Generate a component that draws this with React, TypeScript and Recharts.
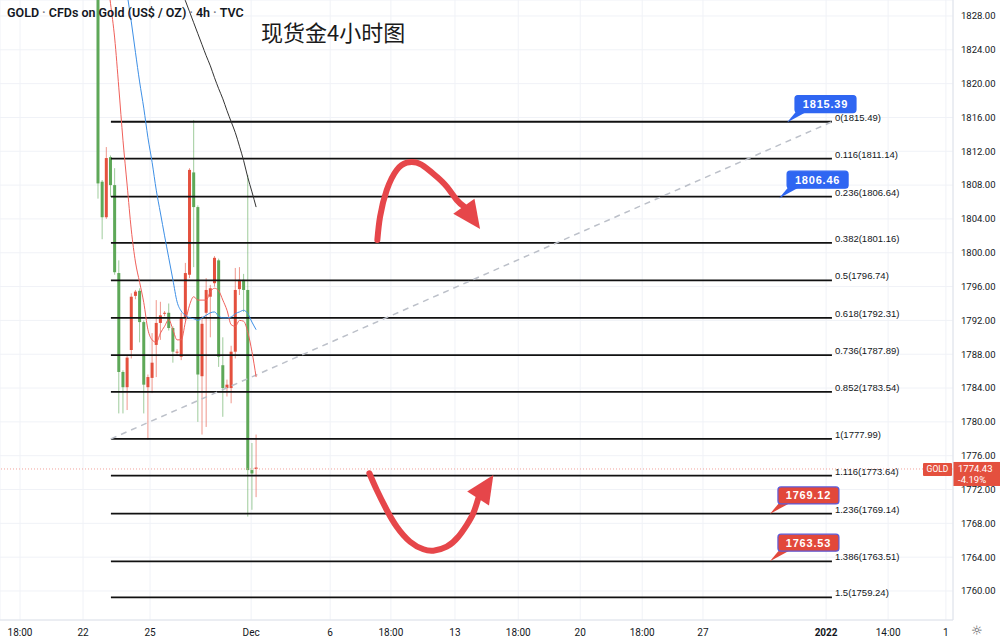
import { ComposedChart, Bar, Line, XAxis, YAxis, CartesianGrid, ReferenceLine, ReferenceDot } from "recharts";

// 4h candles, index = bar number
const barIndex = [
  0, 1, 2, 3, 4, 5, 6, 7, 8, 9, 10, 11, 12, 13, 14, 15, 16, 17, 18, 19,
  20, 21, 22, 23, 24, 25, 26, 27, 28, 29, 30, 31, 32, 33, 34, 35, 36, 37, 38,
];
const opens = [
  1808.2, 1804.2, 1811.2, 1808.0, 1797.7, 1785.9, 1784.1, 1787.6, 1794.8, 1795.4,
  1791.8, 1784.4, 1785.3, 1787.0, 1791.7, 1792.6, 1792.9, 1791.1, 1788.3, 1788.3,
  1792.3, 1797.6, 1809.8, 1805.4, 1785.6, 1791.6, 1795.6, 1795.8, 1799.4, 1787.7,
  1784.0, 1784.4, 1788.3, 1795.6, 1796.8, 1795.6, 1774.3, 1773.9, 1774.6,
];
const closes = [
  1840.0, 1808.4, 1804.2, 1811.3, 1808.0, 1797.6, 1785.9, 1784.1, 1788.5, 1794.9,
  1795.5, 1791.8, 1784.1, 1785.2, 1789.1, 1791.7, 1792.8, 1792.9, 1791.1, 1788.2,
  1787.7, 1792.3, 1797.4, 1809.5, 1805.4, 1785.4, 1792.9, 1794.8, 1796.4, 1799.1,
  1786.7, 1784.0, 1784.0, 1788.3, 1795.7, 1796.8, 1795.6, 1774.3, 1774.43,
];
const highs = [
  1845.0, 1808.6, 1812.5, 1811.5, 1810.0, 1799.1, 1786.1, 1787.9, 1795.2, 1795.6,
  1795.8, 1792.0, 1785.6, 1790.5, 1794.4, 1794.2, 1793.1, 1794.0, 1791.3, 1788.6,
  1792.9, 1798.8, 1810.0, 1815.7, 1805.6, 1792.5, 1797.0, 1796.2, 1799.6, 1799.3,
  1790.0, 1785.0, 1789.0, 1798.2, 1798.3, 1797.5, 1809.2, 1777.5, 1778.5,
];
const lows = [
  1806.4, 1801.6, 1804.0, 1806.6, 1797.4, 1781.0, 1781.0, 1781.4, 1787.5, 1794.5,
  1789.4, 1781.0, 1777.9, 1783.4, 1785.3, 1789.7, 1792.5, 1790.8, 1787.0, 1787.8,
  1787.3, 1792.0, 1797.0, 1798.3, 1780.0, 1778.5, 1779.4, 1790.0, 1796.0, 1786.5,
  1780.6, 1783.0, 1782.2, 1787.5, 1795.0, 1793.0, 1768.8, 1769.6, 1771.1,
];

// moving averages
const maRed = [
  1840.5, 1837.0, 1833.4, 1829.5, 1825.4, 1819.5, 1813.3, 1808.0, 1802.7, 1798.9,
  1796.5, 1794.1, 1790.9, 1789.7, 1789.4, 1790.5, 1791.3, 1792.1, 1790.9, 1789.7,
  1789.7, 1791.8, 1793.8, 1794.8, 1794.4, 1794.4, 1794.4, 1795.4, 1795.8, 1795.5,
  1794.4, 1793.2, 1791.5, 1791.3, 1792.0, 1791.9, 1790.6, 1788.3, 1785.3,
];
const maBlue = [
  1855.9, 1852.4, 1848.6, 1845.0, 1841.5, 1837.8, 1834.0, 1830.6, 1827.3, 1823.7,
  1820.2, 1817.1, 1813.6, 1810.7, 1807.4, 1804.7, 1802.0, 1799.4, 1796.8, 1794.2,
  1793.1, 1792.6, 1792.3, 1792.2, 1792.0, 1792.3, 1792.6, 1792.9, 1793.0, 1792.5,
  1792.3, 1792.3, 1792.4, 1792.8, 1793.0, 1793.2, 1792.8, 1791.8, 1790.9,
];
const maBlack = [
  null, null, null, null, null, null, null, null, null, null,
  null, null, null, null, null, null, null, null, 1833.7, 1832.4,
  1831.1, 1829.8, 1828.5, 1827.2, 1825.9, 1824.6, 1823.3, 1822.1, 1820.7, 1819.4,
  1818.2, 1816.8, 1815.5, 1814.2, 1812.6, 1810.9, 1808.9, 1807.2, 1805.4,
];

const priceTicks = [1760, 1764, 1768, 1772, 1776, 1780, 1784, 1788, 1792, 1796, 1800, 1804, 1808, 1812, 1816, 1820, 1824, 1828];
const timeTickPos = [-18.75, -3.6, 12.5, 36.8, 55.8, 70.4, 85.8, 101.0, 115.9, 130.8, 145.4, 175.0, 189.9, 203.8];
const timeTickLabels = ["18:00", "22", "25", "Dec", "6", "18:00", "13", "18:00", "20", "18:00", "27", "2022", "14:00", "1"];

// fibonacci retracement
const fibRatios = ["0", "0.116", "0.236", "0.382", "0.5", "0.618", "0.736", "0.852", "1", "1.116", "1.236", "1.386", "1.5"];
const fibPrices = [1815.49, 1811.14, 1806.64, 1801.16, 1796.74, 1792.31, 1787.89, 1783.54, 1777.99, 1773.64, 1769.14, 1763.51, 1759.24];
const fibStart = 3.1;
const fibEnd = 176.4;

// callouts
const calloutPrices = [1815.39, 1806.46, 1769.12, 1763.53];
const calloutBars = [165.6, 163.7, 161.5, 161.5];
const calloutKinds = ["blue", "blue", "red", "red"];

const lastPrice = 1774.43;
const lastChange = "-4.19%";

// hand-drawn arrows (bar, price)
const arrowUpper = [
  { i: 67.14, p: 1801.51 }, { i: 67.79, p: 1804.27 }, { i: 69.4, p: 1807.42 }, { i: 71.8, p: 1809.79 },
  { i: 74.21, p: 1810.65 }, { i: 76.61, p: 1810.65 }, { i: 79.01, p: 1809.99 }, { i: 81.42, p: 1808.99 },
  { i: 83.82, p: 1807.81 }, { i: 86.23, p: 1806.24 }, { i: 87.98, p: 1805.47 },
];
const arrowLower = [
  { i: 65.22, p: 1773.92 }, { i: 67.0, p: 1771.94 }, { i: 69.4, p: 1769.58 }, { i: 71.8, p: 1767.6 },
  { i: 75.0, p: 1765.83 }, { i: 78.2, p: 1764.93 }, { i: 80.6, p: 1764.77 }, { i: 83.82, p: 1765.24 },
  { i: 86.6, p: 1766.42 }, { i: 88.6, p: 1767.8 }, { i: 90.2, p: 1769.19 }, { i: 91.4, p: 1770.96 },
];
const arrowTips = [
  { i: 91.83, p: 1802.81, angle: 54.6 },
  { i: 95.02, p: 1773.72, angle: -57 },
];

const GREEN = "#5ea858";
const RED = "#e4503e";
const ARROW = "#e6464a";
const TEXT = "#131722";
const FONT = "Roboto, 'Liberation Sans', Arial, sans-serif";
const BODY_W = 3;

const data = barIndex.map((i, k) => ({
  i,
  range: [lows[k], highs[k]],
  open: opens[k],
  close: closes[k],
  high: highs[k],
  low: lows[k],
  red: maRed[k],
  blue: maBlue[k],
  black: maBlack[k],
}));

const Candle = (props: any) => {
  const { x, y, width, height, payload } = props;
  if (x == null || y == null) return null;
  const top = Math.min(y, y + height);
  const h = Math.abs(height);
  const { open, close, high, low } = payload;
  const up = close >= open;
  const color = up ? GREEN : RED;
  const py = (v: number) => top + ((high - v) / (high - low)) * h;
  const bTop = py(Math.max(open, close));
  const bBot = py(Math.min(open, close));
  const cx = x + (width || 0) / 2;
  return (
    <g>
      <line x1={cx} x2={cx} y1={top} y2={top + h} stroke={color} strokeOpacity={0.6} strokeWidth={1} />
      <rect x={cx - BODY_W / 2} y={bTop} width={BODY_W} height={Math.max(1, bBot - bTop)} fill={color} />
    </g>
  );
};

const TimeTick = (props: any) => {
  const { x, y, payload } = props;
  const idx = timeTickPos.indexOf(payload.value);
  const label = timeTickLabels[idx];
  return (
    <text x={x} y={y + 8} textAnchor="middle" fontSize={10} fill={TEXT} fontFamily={FONT} fontWeight={label === "2022" ? 700 : 400}>
      {label}
    </text>
  );
};

const FibLabel = (ratio: string, price: number) => (props: any) => (
  <text x={props.cx + 3} y={props.cy - 1} fontSize={9.5} fill={TEXT} fontFamily="'Liberation Sans', Arial, sans-serif">
    {`${ratio}(${price.toFixed(2)})`}
  </text>
);

const Callout = (price: number, kind: string) => (props: any) => {
  const { cx, cy } = props;
  const bx = cx + 8;
  const by = cy - 27;
  const fill = kind === "blue" ? "#2f66f2" : "#e2483b";
  const border = kind === "blue" ? "#2f66f2" : "#5c5bd8";
  return (
    <g>
      <polygon points={`${cx},${cy} ${bx + 2},${by + 15} ${bx + 14},${by + 15}`} fill={fill} />
      <rect x={bx} y={by} width={61} height={17} rx={3} fill={fill} stroke={border} strokeWidth={1.2} />
      <text x={bx + 30.5} y={by + 12.5} textAnchor="middle" fontSize={11} fontWeight={700} fill="#fff" letterSpacing={0.8} fontFamily="'Liberation Sans', Arial, sans-serif">
        {price.toFixed(2)}
      </text>
    </g>
  );
};

const ArrowHead = (angle: number) => (props: any) => {
  const { cx, cy } = props;
  return (
    <polygon
      points="0,0 -28,-13 -28,13"
      fill={ARROW}
      transform={`translate(${cx},${cy}) rotate(${angle})`}
    />
  );
};

const PriceTag = (props: any) => {
  const { viewBox } = props;
  const y = viewBox.y;
  const right = viewBox.x + viewBox.width;
  return (
    <g fontFamily={FONT}>
      <rect x={right - 30} y={y - 6} width={29} height={13} fill={RED} rx={1} />
      <text x={right - 15.5} y={y + 3.5} textAnchor="middle" fontSize={8.5} fill="#fff">GOLD</text>
      <rect x={right} y={y - 7} width={47} height={24} fill={RED} />
      <text x={right + 5} y={y + 3.5} fontSize={9.5} fill="#fff">{lastPrice.toFixed(2)}</text>
      <text x={right + 5} y={y + 14} fontSize={9.5} fill="#fff">{lastChange}</text>
    </g>
  );
};

const Dot = () => <span style={{ color: "#787b86", margin: "0 3px" }}>·</span>;

export default function App() {
  return (
    <div style={{ position: "relative", width: 1000, height: 642, background: "#fff", fontFamily: FONT }}>
      <style>{`body{margin:0}`}</style>
      <ComposedChart width={1000} height={642} data={data} margin={{ top: 0, right: 0, bottom: 0, left: 0 }}>
        <CartesianGrid stroke="#f0f2f7" />
        <XAxis
          dataKey="i"
          type="number"
          domain={[-23.56, 205.5]}
          allowDataOverflow
          ticks={timeTickPos}
          interval={0}
          height={22}
          tick={<TimeTick />}
          tickLine={false}
          axisLine={{ stroke: "#dfe2ea" }}
        />
        <YAxis
          orientation="right"
          type="number"
          domain={[1756.57, 1829.89]}
          allowDataOverflow
          ticks={priceTicks}
          interval={0}
          width={47}
          tickFormatter={(v: number) => v.toFixed(2)}
          tick={{ fontSize: 9.5, fill: TEXT, fontFamily: FONT }}
          tickLine={false}
          axisLine={{ stroke: "#dfe2ea" }}
        />
        <ReferenceLine y={lastPrice} stroke="#f2a29c" strokeDasharray="1 2" label={<PriceTag />} />
        {fibPrices.map((p, k) => (
          <ReferenceLine
            key={`fib${k}`}
            segment={[{ x: fibStart, y: p }, { x: fibEnd, y: p }]}
            stroke="#111"
            strokeWidth={1.8}
          />
        ))}
        <ReferenceLine
          segment={[{ x: fibStart, y: fibPrices[8] }, { x: fibEnd, y: fibPrices[0] }]}
          stroke="#bcc0c9"
          strokeWidth={1.5}
          strokeDasharray="6 5"
        />
        {fibPrices.map((p, k) => (
          <ReferenceDot key={`fl${k}`} x={fibEnd} y={p} r={0} shape={FibLabel(fibRatios[k], p)} />
        ))}
        <Bar dataKey="range" barSize={3} shape={<Candle />} isAnimationActive={false} />
        <Line dataKey="red" type="monotone" stroke="#f0605a" strokeWidth={1} dot={false} activeDot={false} isAnimationActive={false} />
        <Line dataKey="blue" type="monotone" stroke="#3d8fe6" strokeWidth={1} dot={false} activeDot={false} isAnimationActive={false} />
        <Line dataKey="black" type="monotone" stroke="#333" strokeWidth={1} dot={false} activeDot={false} isAnimationActive={false} />
        <Line data={arrowUpper} dataKey="p" type="natural" stroke={ARROW} strokeWidth={6} strokeLinecap="round" dot={false} activeDot={false} isAnimationActive={false} />
        <Line data={arrowLower} dataKey="p" type="natural" stroke={ARROW} strokeWidth={6} strokeLinecap="round" dot={false} activeDot={false} isAnimationActive={false} />
        {arrowTips.map((t, k) => (
          <ReferenceDot key={`ah${k}`} x={t.i} y={t.p} r={0} shape={ArrowHead(t.angle)} />
        ))}
        {calloutPrices.map((p, k) => (
          <ReferenceDot key={`co${k}`} x={calloutBars[k]} y={p} r={0} shape={Callout(p, calloutKinds[k])} />
        ))}
      </ComposedChart>
      <div style={{ position: "absolute", left: 7, top: 5, fontSize: 12.5, fontWeight: 600, color: TEXT, whiteSpace: "pre" }}>
        GOLD<Dot />CFDs on Gold (US$ / OZ)<Dot />4h<Dot />TVC
      </div>
      <div style={{ position: "absolute", left: 261, top: 17, fontSize: 22, color: "#1a1a1a", fontFamily: "'Noto Sans CJK SC', sans-serif", lineHeight: "28px" }}>
        现货金4小时图
      </div>
      <div style={{ position: "absolute", left: 971, top: 623, fontSize: 13, color: "#555", fontFamily: "'DejaVu Sans', sans-serif" }}>☼</div>
    </div>
  );
}
